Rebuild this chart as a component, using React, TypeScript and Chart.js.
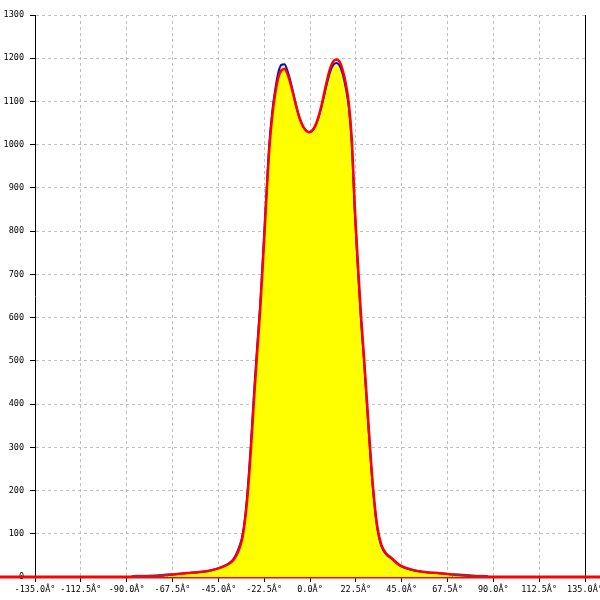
import React, { useEffect, useRef } from "react";
import { Chart, registerables } from "chart.js";
Chart.register(...registerables);

const angles = [-87.5, -85, -80, -75, -70, -65, -60, -55, -50, -45, -42.5, -40, -37.5, -35, -33, -31, -29, -27.5, -26, -24.5, -23, -21.5, -20, -18.5, -17, -15.5, -14, -12.5, -11, -9.5, -8, -6.5, -5, -3.5, -2, -0.5, 1, 2.5, 4, 5.5, 7, 8.5, 10, 11.5, 13, 14.5, 16, 17.5, 19, 20.5, 22, 23.5, 25, 26.5, 28, 29.5, 31, 33, 35, 37.5, 40, 42.5, 45, 50, 55, 60, 65, 70, 75, 80, 85, 87.5];

const measured = [1, 1.5, 2, 3, 5, 7, 9, 11, 14, 20, 25, 31, 42, 67, 100, 180, 310, 425, 530, 628, 750, 880, 1000, 1078, 1130, 1168, 1185, 1186, 1170, 1145, 1115, 1085, 1060, 1043, 1033, 1029, 1032, 1042, 1060, 1085, 1115, 1145, 1170, 1185, 1189, 1183, 1164, 1133, 1088, 1002, 843, 713, 596, 500, 394, 290, 198, 113, 72, 52, 43, 32, 24, 16, 12, 10, 8, 6, 4, 2.5, 1.5, 1];

const fitted = [null, null, null, null, 5, 7, 9, 11, 14, 20, 24, 30, 40, 62, 95, 170, 295, 410, 515, 615, 738, 868, 988, 1068, 1120, 1156, 1172, 1175, 1163, 1140, 1112, 1084, 1060, 1043, 1033, 1029, 1032, 1043, 1062, 1088, 1120, 1152, 1178, 1193, 1197, 1192, 1173, 1143, 1098, 1014, 856, 725, 608, 510, 404, 298, 205, 118, 75, 54, 44, 33, 25, 17, 12, 10, 8, 6, null, null, null, null];

const baselineX = [-160, 160];
const baselineY = [0, 0];

const xTicks = [-135, -112.5, -90, -67.5, -45, -22.5, 0, 22.5, 45, 67.5, 90, 112.5, 135];
const yTicks = [0, 100, 200, 300, 400, 500, 600, 700, 800, 900, 1000, 1100, 1200, 1300];
const degreeSuffix = "Â°";

export default function App() {
  const ref = useRef<HTMLCanvasElement | null>(null);
  useEffect(() => {
    if (!ref.current) return;
    const font = { family: "'DejaVu Sans Mono', monospace", size: 8.5 };
    const chart = new Chart(ref.current, {
      type: "line",
      data: {
        datasets: [
          {
            label: "fit",
            data: angles.map((a, i) => ({ x: a, y: fitted[i] })),
            borderColor: "#ff0000",
            borderWidth: 2.5,
            pointRadius: 0,
            fill: false,
            cubicInterpolationMode: "monotone",
            order: 0,
          },
          {
            label: "measured",
            data: angles.map((a, i) => ({ x: a, y: measured[i] })),
            borderColor: "#0000ff",
            borderWidth: 2,
            pointRadius: 0,
            fill: "origin",
            backgroundColor: "#ffff00",
            cubicInterpolationMode: "monotone",
            order: 1,
            segment: {
              borderColor: (ctx: any) =>
                ctx.p1.parsed.x <= -70 || ctx.p0.parsed.x >= 70 ? "rgb(165,40,55)" : "#0000ff",
              borderWidth: (ctx: any) =>
                ctx.p1.parsed.x <= -70 || ctx.p0.parsed.x >= 70 ? 3 : 2,
            },
          },
          {
            label: "baseline",
            data: baselineX.map((x, i) => ({ x, y: baselineY[i] })),
            borderColor: "#ff0000",
            borderWidth: 3,
            pointRadius: 0,
            fill: false,
            clip: false as any,
            order: 2,
          },
        ],
      },
      options: {
        animation: false,
        responsive: false,
        layout: { padding: { top: 15, right: 15, left: 0, bottom: 0 } },
        plugins: { legend: { display: false }, tooltip: { enabled: false } },
        scales: {
          x: {
            type: "linear",
            min: -135,
            max: 135,
            afterBuildTicks: (s: any) => {
              s.ticks = xTicks.map((v) => ({ value: v }));
            },
            afterFit: (s: any) => {
              s.height = 23;
              s.paddingLeft = 0;
              s.paddingRight = 0;
            },
            ticks: {
              autoSkip: false,
              maxRotation: 0,
              padding: 3,
              color: "#000",
              font,
              callback: (v: any) => Number(v).toFixed(1) + degreeSuffix,
            },
            grid: {
              color: "#c0c0c0",
              tickColor: "#000",
              tickLength: 5,
              lineWidth: 1,
            },
            border: { color: "#000", width: 1, dash: [3, 3] },
          },
          y: {
            type: "linear",
            min: 0,
            max: 1300,
            afterBuildTicks: (s: any) => {
              s.ticks = yTicks.map((v) => ({ value: v }));
            },
            afterFit: (s: any) => {
              s.width = 35;
              s.paddingTop = 0;
              s.paddingBottom = 0;
            },
            ticks: {
              padding: 6,
              color: "#000",
              font,
              callback: (v: any) => String(v),
            },
            grid: {
              color: "#c0c0c0",
              tickColor: "#000",
              tickLength: 5,
              lineWidth: 1,
            },
            border: { color: "#000", width: 1, dash: [3, 3] },
          },
          y2: {
            type: "linear",
            position: "right",
            min: 0,
            max: 1300,
            afterFit: (s: any) => {
              s.width = 0;
              s.paddingTop = 0;
              s.paddingBottom = 0;
            },
            ticks: { display: false },
            grid: { drawOnChartArea: false, drawTicks: false },
            border: { color: "#000", width: 1 },
          },
        },
      },
    });
    return () => chart.destroy();
  }, []);
  return (
    <canvas
      ref={ref}
      width={600}
      height={600}
      style={{ position: "absolute", left: 0, top: 0, width: 600, height: 600, background: "#fff" }}
    />
  );
}
